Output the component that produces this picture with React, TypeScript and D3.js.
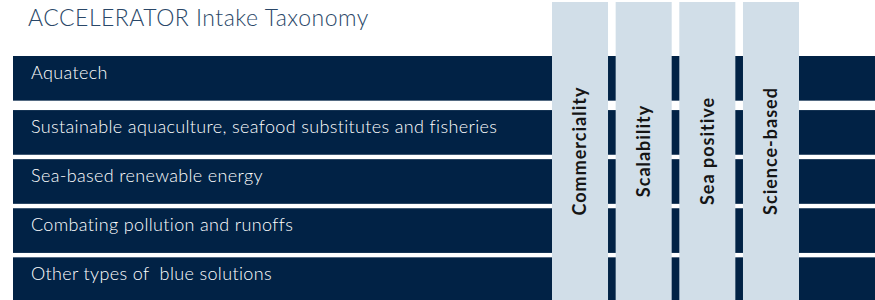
import React, { useEffect, useRef } from "react";
import * as d3 from "d3";

const title = "ACCELERATOR Intake Taxonomy";

const categories = [
  "Aquatech",
  "Sustainable aquaculture, seafood substitutes and fisheries",
  "Sea-based renewable energy",
  "Combating pollution and runoffs",
  "Other types of  blue solutions",
];

const criteria = ["Commerciality", "Scalability", "Sea positive", "Science-based"];

const App = () => {
  const svgRef = useRef<SVGSVGElement>(null);

  useEffect(() => {
    const width = 875;
    const height = 300;
    const leadGap = 5; // first row sits a bit higher than the rest

    const svg = d3.select(svgRef.current);
    svg.selectAll("*").remove();
    svg.attr("width", width).attr("height", height);

    const y = d3
      .scaleBand()
      .domain(categories)
      .range([61, 302])
      .paddingInner(0.09)
      .paddingOuter(0);

    const x = d3
      .scaleBand()
      .domain(criteria)
      .range([552, 799])
      .paddingInner(0.12)
      .paddingOuter(0);

    const rowTop = (d: string, i: number) => (y(d) as number) - (i === 0 ? leadGap : 0);

    svg
      .append("text")
      .attr("x", 28)
      .attr("y", 26)
      .attr("fill", "#2a4768")
      .attr("font-family", "Lato, sans-serif")
      .attr("font-weight", 300)
      .attr("font-size", 23)
      .attr("letter-spacing", 0.5)
      .text(title);

    const rows = svg.append("g");
    rows
      .selectAll("rect")
      .data(categories)
      .enter()
      .append("rect")
      .attr("x", 13)
      .attr("y", (d, i) => rowTop(d, i))
      .attr("width", width - 13)
      .attr("height", y.bandwidth())
      .attr("fill", "#012245");

    rows
      .selectAll("text")
      .data(categories)
      .enter()
      .append("text")
      .attr("x", 31)
      .attr("y", (d, i) => rowTop(d, i) + 23)
      .attr("fill", "#ffffff")
      .attr("font-family", "Lato, sans-serif")
      .attr("font-weight", 300)
      .attr("font-size", 18)
      .attr("letter-spacing", 0.35)
      .style("white-space", "pre")
      .text((d) => d);

    const cols = svg.append("g");
    cols
      .selectAll("rect")
      .data(criteria)
      .enter()
      .append("rect")
      .attr("x", (d) => x(d) as number)
      .attr("y", 2)
      .attr("width", x.bandwidth())
      .attr("height", height - 2)
      .attr("fill", "#d1dee8");

    cols
      .selectAll("text")
      .data(criteria)
      .enter()
      .append("text")
      .attr("transform", (d) => `translate(${(x(d) as number) + x.bandwidth() / 2},151) rotate(-90)`)
      .attr("text-anchor", "middle")
      .attr("dy", "0.36em")
      .attr("fill", "#151515")
      .attr("font-family", "Lato, sans-serif")
      .attr("font-weight", 700)
      .attr("font-size", 18)
      .attr("letter-spacing", 1)
      .text((d) => d);
  }, []);

  return (
    <svg
      ref={svgRef}
      style={{ position: "absolute", left: 0, top: 0, display: "block" }}
    ></svg>
  );
};

export default App;
